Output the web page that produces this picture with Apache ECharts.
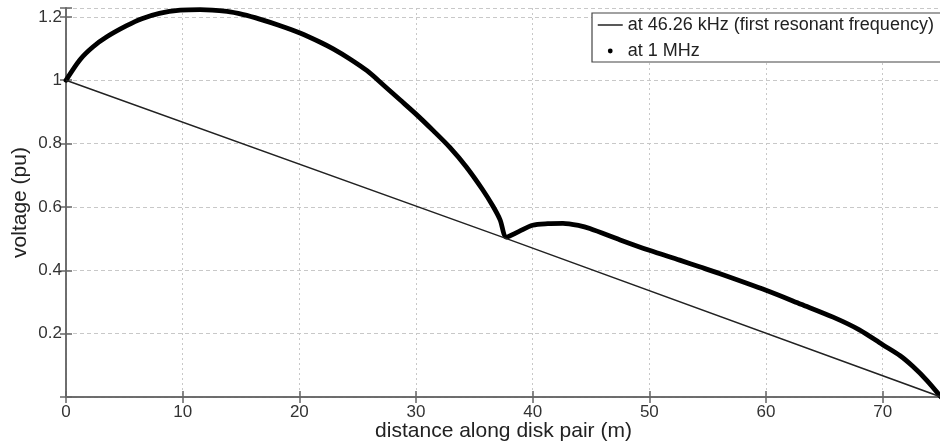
<!DOCTYPE html>
<html>
<head>
<meta charset="utf-8">
<script src="https://cdn.jsdelivr.net/npm/echarts@6/dist/echarts.min.js"></script>
<style>
html,body{margin:0;padding:0;background:#fff;}
#chart{width:940px;height:446px;}
</style>
</head>
<body>
<div id="chart"></div>
<script>
// Series A: at 46.26 kHz (first resonant frequency) - thin straight line
var lowX = [0, 37.76, 75];
var lowY = [1.0, 0.5, 0.0];
// Series B: at 1 MHz - thick curve
var highX = [0, 1.2, 2.3, 3.5, 5.2, 6.5, 8, 9.8, 11.5, 13.8, 15.2, 16.6, 18.3, 20, 21.8, 22.9, 24.3, 25.8, 27.2, 28.6, 30, 31.5, 32.9, 34.3, 35.7, 36.6, 37.2, 37.76, 38.8, 40, 41.3, 42.6, 44, 44.9, 47.5, 50, 52.6, 54.3, 56, 60, 63, 65.75, 68, 70, 71.5, 72.6, 73.8, 75];
var highY = [1.0, 1.065, 1.105, 1.137, 1.172, 1.194, 1.211, 1.221, 1.223, 1.217, 1.207, 1.193, 1.173, 1.150, 1.120, 1.099, 1.068, 1.030, 0.985, 0.939, 0.893, 0.840, 0.788, 0.727, 0.655, 0.602, 0.560, 0.505, 0.522, 0.542, 0.547, 0.548, 0.541, 0.532, 0.496, 0.463, 0.432, 0.411, 0.39, 0.337, 0.293, 0.252, 0.212, 0.165, 0.13, 0.096, 0.052, 0.0];
var seriesNames = ['at 46.26 kHz (first resonant frequency)', 'at 1 MHz'];
var xTitle = 'distance along disk pair (m)';
var yTitle = 'voltage (pu)';

function pairs(xs, ys) { return xs.map(function (x, i) { return [x, ys[i]]; }); }

var FONT = 'Liberation Sans';
var axisCol = '#666';
var chart = echarts.init(document.getElementById('chart'), null, {renderer: 'canvas'});
var gridLineX = {show: true, lineStyle: {color: '#c8c8c8', type: [2, 3], width: 1}};
var gridLineY = {show: true, lineStyle: {color: '#c8c8c8', type: [4, 3], width: 1}};

chart.setOption({
  animation: false,
  backgroundColor: '#fff',
  grid: {left: 66, right: -1, top: 8, bottom: 49, containLabel: false, outerBoundsMode: 'none'},
  legend: {
    orient: 'vertical',
    left: 592, top: 13,
    padding: [3, 40, 2, 5],
    itemGap: 8,
    itemWidth: 25, itemHeight: 6,
    borderColor: '#444', borderWidth: 1.2,
    backgroundColor: '#fff',
    textStyle: {fontFamily: FONT, fontSize: 18, color: '#222'},
    data: [
      {name: seriesNames[0], itemStyle: {color: 'rgba(0,0,0,0)', borderWidth: 0, opacity: 0}, lineStyle: {color: '#222', width: 1.5}},
      {name: seriesNames[1], itemStyle: {color: '#000', borderWidth: 0}, lineStyle: {width: 0, opacity: 0}}
    ]
  },
  xAxis: [{
    type: 'value', min: 0, max: 75, interval: 10,
    name: xTitle, nameLocation: 'middle', nameGap: 24, nameMoveOverlap: false,
    nameTextStyle: {fontFamily: FONT, fontSize: 21, color: '#222'},
    axisLine: {show: true, lineStyle: {color: axisCol, width: 1.5}},
    axisTick: {show: true, inside: true, length: 6, lineStyle: {color: axisCol, width: 1.5}},
    axisLabel: {margin: 7, fontFamily: FONT, fontSize: 17, color: '#333',
      formatter: function (v) { return v > 72 ? '' : String(v); }},
    splitLine: gridLineX
  }, {
    type: 'value', min: 0, max: 75, interval: 10, position: 'top',
    axisLine: {show: true, lineStyle: {color: axisCol, width: 1.5}},
    axisTick: {show: true, inside: true, length: 6, lineStyle: {color: axisCol, width: 1.5}},
    axisLabel: {show: false}, splitLine: {show: false}
  }],
  yAxis: [{
    type: 'value', min: 0, max: 1.228, interval: 0.2,
    name: yTitle, nameLocation: 'middle', nameGap: 35, nameRotate: 90, nameMoveOverlap: false,
    nameTextStyle: {fontFamily: FONT, fontSize: 21, color: '#222'},
    axisLine: {show: true, lineStyle: {color: axisCol, width: 1.5}},
    axisTick: {show: true, inside: true, length: 6, lineStyle: {color: axisCol, width: 1.5}},
    axisLabel: {margin: 4, fontFamily: FONT, fontSize: 17, color: '#333',
      formatter: function (v) { if (v < 0.01 || v > 1.21) return ''; return String(Math.round(v * 10) / 10); }},
    splitLine: gridLineY
  }, {
    type: 'value', min: 0, max: 1.228, interval: 0.2, position: 'right',
    axisLine: {show: true, lineStyle: {color: axisCol, width: 1.5}},
    axisTick: {show: true, inside: true, length: 6, lineStyle: {color: axisCol, width: 1.5}},
    axisLabel: {show: false}, splitLine: {show: false}
  }],
  series: [{
    name: seriesNames[0], type: 'line', xAxisIndex: 0, yAxisIndex: 0,
    data: pairs(lowX, lowY), symbol: 'none', smooth: false,
    lineStyle: {color: '#222', width: 1.5}, itemStyle: {color: '#222'}, z: 3
  }, {
    name: seriesNames[1], type: 'line', xAxisIndex: 0, yAxisIndex: 0,
    data: pairs(highX, highY), symbol: 'none', smooth: 0.3,
    lineStyle: {color: '#000', width: 4.8, join: 'round', cap: 'round'}, itemStyle: {color: '#000'}, z: 2
  }]
});
</script>
</body>
</html>
